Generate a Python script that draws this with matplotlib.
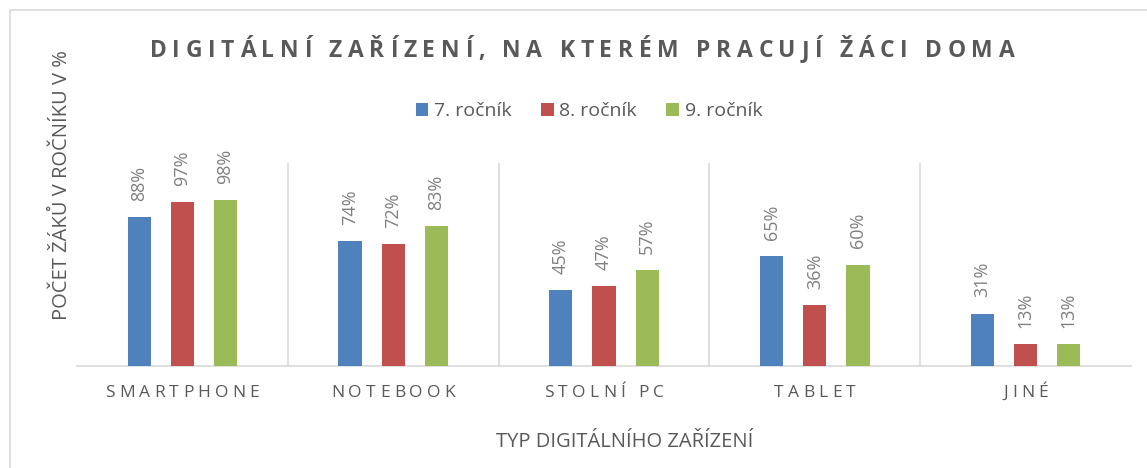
import matplotlib
matplotlib.use("Agg")
import matplotlib.pyplot as plt
import numpy as np
from matplotlib.patches import Rectangle
from matplotlib import font_manager
from matplotlib.ft2font import FT2Font
import matplotlib.transforms as mtransforms

categories = ["SMARTPHONE", "NOTEBOOK", "STOLNÍ PC", "TABLET", "JINÉ"]
series_names = ["7. ročník", "8. ročník", "9. ročník"]
r7 = [88, 74, 45, 65, 31]
r8 = [97, 72, 47, 36, 13]
r9 = [98, 83, 57, 60, 13]
colors = ["#4f81bd", "#c0504d", "#9bbb59"]

FAMILY = 'Open Sans'
plt.rcParams['font.family'] = [FAMILY, 'DejaVu Sans']

W, H, DPI = 1147, 468, 100
fig = plt.figure(figsize=(W / DPI, H / DPI), dpi=DPI)
ident = mtransforms.IdentityTransform()


def advances(s, size, weight="normal"):
    path = font_manager.findfont(font_manager.FontProperties(family=FAMILY, weight=weight))
    f = FT2Font(path)
    f.set_size(size, DPI)
    out = []
    for c in s:
        g = f.load_char(ord(c))
        out.append(g.linearHoriAdvance / 65536.0)
    return out


def spaced_text(cx, baseline_y, s, size, spacing=None, total=None, weight="normal", color="#595959"):
    adv = advances(s, size, weight)
    n = len(s)
    if total is not None:
        spacing = (total - sum(adv)) / (n - 1)
    width = sum(adv) + spacing * (n - 1)
    x0 = cx - width / 2
    for c, a in zip(s, adv):
        if c != " ":
            fig.text(x0, H - baseline_y, c, transform=ident, ha="left", va="baseline",
                     fontsize=size, fontweight=weight, color=color)
        x0 += a + spacing


fig.patches.append(Rectangle((10 / W, -0.1), 1.2, 1 - 10 / H + 0.1,
                             transform=fig.transFigure, fill=False,
                             edgecolor="#d9d9d9", linewidth=1.2))

ax = fig.add_axes([77 / W, 1 - 366 / H, (1131 - 77) / W, (366 - 163) / H])
x = np.arange(len(categories))
offsets = [-0.205, 0, 0.205]
width = 0.11
text_grey = "#595959"
for vals, off, col, name in zip([r7, r8, r9], offsets, colors, series_names):
    bars = ax.bar(x + off, vals, width=width, color=col, label=name, zorder=3)
    for b, v in zip(bars, vals):
        ax.text(b.get_x() + b.get_width() / 2, v + 9.5, f"{v}%", rotation=90,
                ha="center", va="bottom", fontsize=13, color="#7f7f7f")

ax.set_xlim(-0.5, len(categories) - 0.5)
ax.set_ylim(0, 120)
for s in ["top", "left", "right"]:
    ax.spines[s].set_visible(False)
ax.spines["bottom"].set_color("#d9d9d9")
ax.spines["bottom"].set_linewidth(1.2)
for b in np.arange(0.5, len(categories) - 0.5, 1):
    ax.axvline(b, color="#d9d9d9", linewidth=1.2, zorder=1)
ax.set_yticks([])
ax.set_xticks(x)
ax.set_xticklabels([])
ax.tick_params(axis="x", length=0)

# category labels with letter spacing
fig.canvas.draw()
for xi, cat in zip(x, categories):
    px = ax.transData.transform((xi, 0))[0]
    spaced_text(px, 397, cat, 12.5, spacing=4.2, color=text_grey)

fig.text(625 / W, 1 - 447 / H, "TYP DIGITÁLNÍHO ZAŘÍZENÍ", ha="center", va="baseline",
         fontsize=14.5, color=text_grey)
fig.text(62 / W, 1 - 185 / H, "POČET ŽÁKŮ V ROČNÍKU V %", rotation=90,
         ha="center", va="center", fontsize=14.5, color=text_grey)

spaced_text(582, 57, "DIGITÁLNÍ ZAŘÍZENÍ, NA KTERÉM PRACUJÍ ŽÁCI DOMA", 16.5,
            total=865, weight="bold", color=text_grey)

leg = fig.legend(loc="center", bbox_to_anchor=(589 / W, 1 - 111 / H), ncol=3,
                 frameon=False, fontsize=14, handlelength=0.65, handleheight=0.65,
                 handletextpad=0.3, columnspacing=1.5)
for t in leg.get_texts():
    t.set_color(text_grey)

fig.savefig("out.png", dpi=DPI)
